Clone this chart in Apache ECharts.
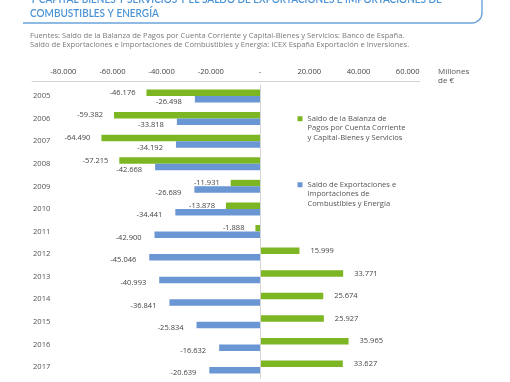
<!DOCTYPE html>
<html>
<head>
<meta charset="utf-8">
<script src="https://cdn.jsdelivr.net/npm/echarts@6/dist/echarts.min.js"></script>
<style>
html,body{margin:0;padding:0;background:#fff;overflow:hidden;}
#chart{width:510px;height:382px;}
</style>
</head>
<body>
<div id="chart"></div>
<script>
const years = ['2005','2006','2007','2008','2009','2010','2011','2012','2013','2014','2015','2016','2017'];
const cuentaCorriente = [-46176,-59382,-64490,-57215,-11931,-13878,-1888,15999,33771,25674,25927,35965,33627];
const combustibles = [-26498,-33818,-34192,-42668,-26689,-34441,-42900,-45046,-40993,-36841,-25834,-16632,-20639];
const xTickValues = [-80000,-60000,-40000,-20000,0,20000,40000,60000];
const seriesNames = [
  'Saldo de la Balanza de\nPagos por Cuenta Corriente\ny Capital-Bienes y Servicios',
  'Saldo de Exportaciones e\nImportaciones de\nCombustibles y Energía'
];
const titleLines = [
  'Y CAPITAL-BIENES Y SERVICIOS Y EL SALDO DE EXPORTACIONES E IMPORTACIONES DE',
  'COMBUSTIBLES Y ENERGÍA'
];
const sourceLines = [
  'Fuentes: Saldo de la Balanza de Pagos por Cuenta Corriente y Capital-Bienes y Servicios: Banco de España.',
  'Saldo de Exportaciones e Importaciones de Combustibles y Energía: ICEX España Exportación e Inversiones.'
];
const unitName = 'Millones\nde €';

const FONT = '"Open Sans", sans-serif';
const TFONT = 'Lato, "Open Sans", sans-serif';
const GREEN = '#7cb623';
const BLUE = '#6a96d3';
const TITLE_BLUE = '#4a93d6';

function fmt(v){
  if (v === 0) return '-';
  const s = Math.abs(v).toString().replace(/\B(?=(\d{3})+(?!\d))/g, '.');
  return (v < 0 ? '-' : '') + s;
}

const chart = echarts.init(document.getElementById('chart'), null, {renderer:'canvas'});
const legendText = {fontSize: 7.6, color: '#555', lineHeight: 9.5, fontFamily: FONT};
const option = {
  animation: false,
  backgroundColor: '#fff',
  textStyle: {fontFamily: FONT},
  grid: {left: 32, right: 90, top: 84.7, bottom: 3.7, containLabel: false},
  graphic: [
    {type:'text', x: 30, y: -6, scaleY: 1.12, style:{text: titleLines[0], fill: TITLE_BLUE, font: '600 10px ' + TFONT}},
    {type:'text', x: 30, y: 7.5, scaleY: 1.12, style:{text: titleLines[1], fill: TITLE_BLUE, font: '600 10px ' + TFONT}},
    {type:'line', shape:{x1: 23, y1: 23, x2: 472, y2: 23}, style:{stroke: '#6aa3db', lineWidth: 1.4}},
    {type:'arc', shape:{cx: 472, cy: 13, r: 10, startAngle: 0, endAngle: Math.PI/2}, style:{stroke:'#6aa3db', lineWidth:1.4, fill:null}},
    {type:'line', shape:{x1: 482, y1: 13, x2: 482, y2: -2}, style:{stroke: '#6aa3db', lineWidth: 1.4}},
    {type:'text', x: 30, y: 32, style:{text: sourceLines[0], fill: '#7a7a7a', font: '7.6px ' + FONT}},
    {type:'text', x: 30, y: 40.5, style:{text: sourceLines[1], fill: '#7a7a7a', font: '7.6px ' + FONT}},
    {type:'text', x: 438, y: 67.5, style:{text: unitName, fill: '#555', font: '8px ' + FONT, lineHeight: 9}}
  ],
  legend: [
    {data:[seriesNames[0]], left: 297.5, top: 95, orient:'vertical', padding:0, itemWidth:5, itemHeight:5,
     icon:'rect', formatter: n => '\n\n' + n, textStyle: legendText},
    {data:[seriesNames[1]], left: 297.5, top: 161, orient:'vertical', padding:0, itemWidth:5, itemHeight:5,
     icon:'rect', formatter: n => '\n\n' + n, textStyle: legendText}
  ],
  xAxis: {
    type: 'value', position: 'top', min: -92700, max: 65000, offset: 3,
    axisLine: {show: true, onZero: false, lineStyle: {color: '#d4d4d4', width: 1}},
    axisTick: {show: false},
    splitLine: {show: false},
    axisLabel: {customValues: xTickValues, formatter: fmt, color: '#444', fontSize: 7.6, margin: 6}
  },
  yAxis: {
    type: 'category', data: years, inverse: true,
    axisLine: {show: false}, axisTick: {show: false}, splitLine: {show:false},
    axisLabel: {align: 'left', margin: -1, color: '#555', fontSize: 7.6}
  },
  series: [
    {
      type: 'bar', name: seriesNames[0], barWidth: 6.5, barGap: '0%',
      itemStyle: {color: GREEN},
      data: cuentaCorriente.map(v => ({value: v, label: {position: v < 0 ? 'left' : 'right'}})),
      label: {show: true, formatter: p => fmt(p.value), color: '#444', fontSize: 7.5, distance: 11},
      markLine: {silent: true, symbol: 'none', label: {show: false},
        lineStyle: {color: '#d4d4d4', type: 'solid', width: 1}, data: [{xAxis: 0}]}
    },
    {
      type: 'bar', name: seriesNames[1], barWidth: 6.5, barGap: '0%',
      itemStyle: {color: BLUE},
      data: combustibles,
      label: {show: true, position: 'left', formatter: p => fmt(p.value), color: '#444', fontSize: 7.5, distance: 13, offset: [0, 3]}
    }
  ]
};
chart.setOption(option);
</script>
</body>
</html>
